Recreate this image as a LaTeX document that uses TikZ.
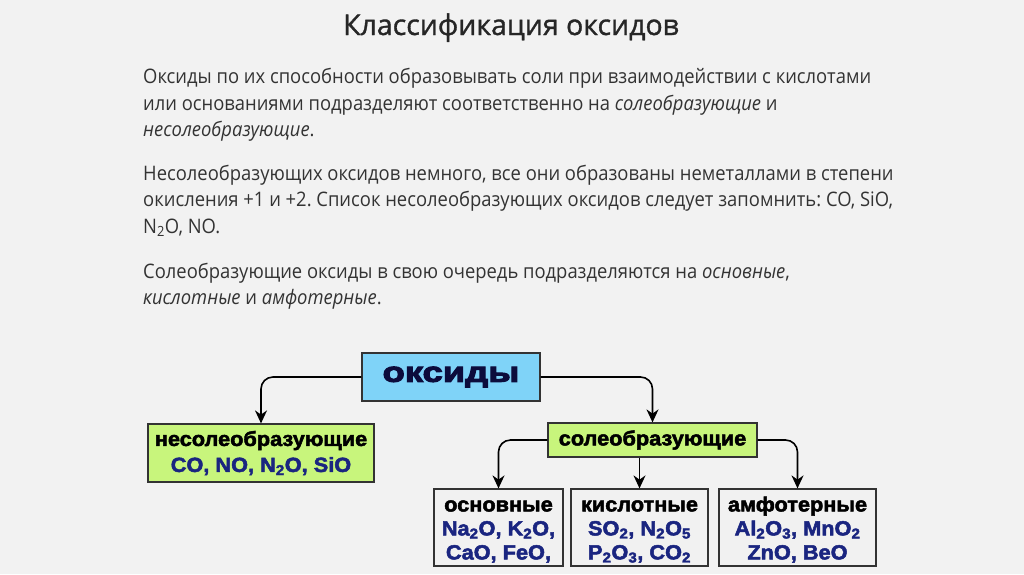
\documentclass[tikz,border=0pt]{standalone}
\usepackage{fontspec}
\setmainfont{Open Sans}[FakeStretch=0.92]
\newfontfamily\titlefont{Open Sans}[FakeBold=1.2]
\newfontfamily\boxfont{Liberation Sans}[FakeStretch=1.06,FakeBold=2.4]
\newfontfamily\blackfont{Liberation Sans}[FakeStretch=1.3,FakeBold=4]
\usepackage{xcolor}
\usetikzlibrary{positioning,arrows.meta}
\definecolor{bgc}{HTML}{F2F2F2}
\definecolor{txtc}{HTML}{333333}
\definecolor{navy}{HTML}{1A2580}
\definecolor{inkc}{HTML}{0C0C3C}
\definecolor{skyc}{HTML}{7FD3F8}
\definecolor{limec}{HTML}{C8F57C}
\definecolor{grayc}{HTML}{F1F1F1}
\tikzset{
  para/.style={anchor=base west,inner sep=0pt,text=txtc,font=\fontsize{20}{24}\selectfont},
  tbox/.style={draw=black!80,line width=1.2pt,align=center,inner sep=0pt,font=\boxfont\bfseries},
  link/.style={->,line width=1.6pt,rounded corners=12pt}
}
\frenchspacing
\begin{document}
\begin{tikzpicture}[x=1pt,y=-1pt,>={Stealth[length=13pt,width=12pt]}]
  % фон
  \fill[bgc] (0,0) rectangle (1024,574);
  \node[anchor=base,inner sep=0pt,text=black!85,font=\titlefont\fontsize{28.5}{30}\selectfont] (title) at (511,35) {Классификация оксидов};
  % текст
  \node[para] (p1a) at (143,83) {Оксиды по их способности образовывать соли при взаимодействии с кислотами};
  \node[para] (p1b) at (143,110) {или основаниями подразделяют соответственно на \textit{солеобразующие} и};
  \node[para] (p1c) at (143,136) {\textit{несолеобразующие}.};
  \node[para] (p2a) at (143,180) {Несолеобразующих оксидов немного, все они образованы неметаллами в степени};
  \node[para] (p2b) at (143,206) {окисления +1 и +2. Список несолеобразующих оксидов следует запомнить: CO, SiO,};
  \node[para] (p2c) at (143,233) {N\textsubscript{2}O, NO.};
  \node[para] (p3a) at (143,278) {Солеобразующие оксиды в свою очередь подразделяются на \textit{основные},};
  \node[para] (p3b) at (143,304) {\textit{кислотные} и \textit{амфотерные}.};
  % схема
  \node[tbox,fill=skyc,minimum width=178,minimum height=48,text=inkc,font=\blackfont\bfseries\fontsize{28}{28}\selectfont] (oxides) at (451,377) {оксиды};
  \node[tbox,fill=limec,minimum width=226,minimum height=58,font=\boxfont\bfseries\fontsize{20.5}{26}\selectfont] (nonsalt) at (261,453)
    {несолеобразующие\\ \color{navy}CO, NO, N\textsubscript{2}O, SiO};
  \node[tbox,fill=limec,minimum width=209,minimum height=34,font=\boxfont\bfseries\fontsize{20.5}{22}\selectfont] (salt) at (652.5,440) {солеобразующие};
  \node[tbox,fill=grayc,minimum width=129,minimum height=77,font=\boxfont\bfseries\fontsize{20.5}{24}\selectfont] (basic) at (498.5,527.5)
    {\rule{0pt}{19pt}основные\\ \color{navy}Na\textsubscript{2}O, K\textsubscript{2}O,\\ \color{navy}CaO, FeO,};
  \node[tbox,fill=grayc,minimum width=137,minimum height=77,font=\boxfont\bfseries\fontsize{20.5}{24}\selectfont] (acid) at (639.5,527.5)
    {\rule{0pt}{19pt}кислотные\\ \color{navy}SO\textsubscript{2}, N\textsubscript{2}O\textsubscript{5}\\ \color{navy}P\textsubscript{2}O\textsubscript{3}, CO\textsubscript{2}};
  \node[tbox,fill=grayc,minimum width=157,minimum height=77,font=\boxfont\bfseries\fontsize{20.5}{24}\selectfont] (amph) at (797.5,527.5)
    {\rule{0pt}{19pt}амфотерные\\ \color{navy}Al\textsubscript{2}O\textsubscript{3}, MnO\textsubscript{2}\\ \color{navy}ZnO, BeO};
  % стрелки
  \draw[link] (oxides.west) -| (nonsalt.north);
  \draw[link] (oxides.east) -| (salt.north);
  \draw[link] (salt.west) -| (basic.north);
  \draw[link] (salt.south -| acid.north) -- (acid.north);
  \draw[link] (salt.east) -| (amph.north);
\end{tikzpicture}
\end{document}
